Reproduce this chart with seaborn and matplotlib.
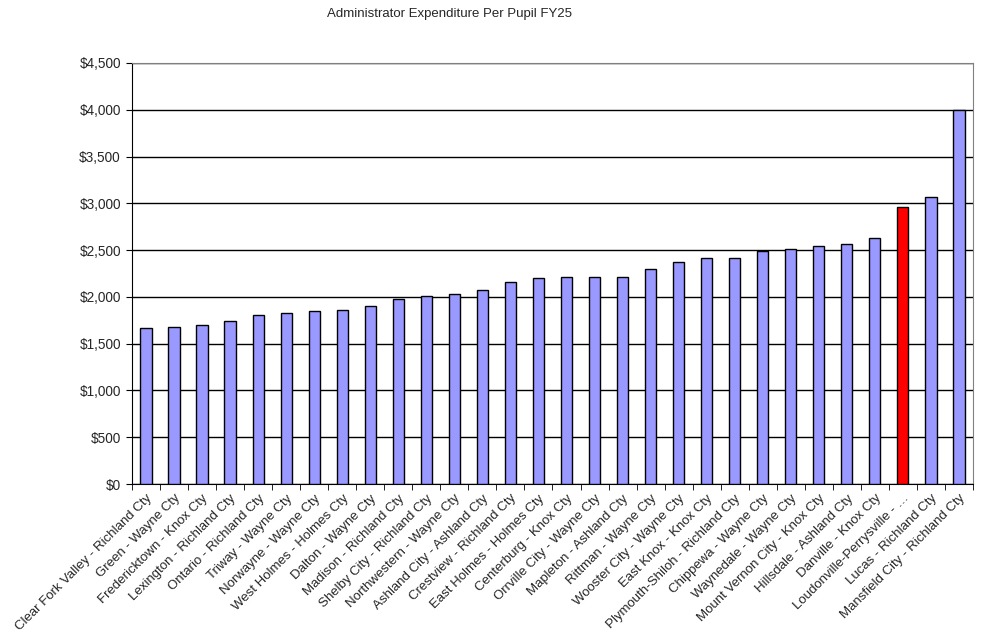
import pandas as pd
import numpy as np
import matplotlib.pyplot as plt
import seaborn as sns
from matplotlib.ticker import FuncFormatter, FixedLocator

districts = ['Clear Fork Valley - Richland Cty', 'Green - Wayne Cty', 'Fredericktown - Knox Cty',
             'Lexington - Richland Cty', 'Ontario - Richland Cty', 'Triway - Wayne Cty',
             'Norwayne - Wayne Cty', 'West Holmes - Holmes Cty', 'Dalton - Wayne Cty',
             'Madison - Richland Cty', 'Shelby City - Richland Cty', 'Northwestern - Wayne Cty',
             'Ashland City - Ashland Cty', 'Crestview - Richland Cty', 'East Holmes - Holmes Cty',
             'Centerburg - Knox Cty', 'Orrville City - Wayne Cty', 'Mapleton - Ashland Cty',
             'Rittman - Wayne Cty', 'Wooster City - Wayne Cty', 'East Knox - Knox Cty',
             'Plymouth-Shiloh - Richland Cty', 'Chippewa - Wayne Cty', 'Waynedale - Wayne Cty',
             'Mount Vernon City - Knox Cty', 'Hillsdale - Ashland Cty', 'Danville - Knox Cty',
             'Loudonville-Perrysville - …', 'Lucas - Richland Cty', 'Mansfield City - Richland Cty']
spending = [1664, 1675, 1697, 1739, 1803, 1825, 1846, 1857, 1900, 1974,
            2006, 2028, 2070, 2156, 2199, 2210, 2210, 2210, 2295, 2370,
            2412, 2412, 2487, 2509, 2541, 2562, 2626, 2958, 3065, 3998]
highlight = 'Loudonville-Perrysville - …'

df = pd.DataFrame({'district': districts, 'spending': spending})
colors = ['#FF0000' if d == highlight else '#9999FF' for d in districts]

sns.set_style('white')
plt.rcParams['font.family'] = ['Liberation Sans', 'DejaVu Sans']

fig = plt.figure(figsize=(9.82, 6.44), dpi=100)
ax = fig.add_axes([0.1344, 0.2484, 0.8564, 0.6538])

sns.barplot(data=df, x='district', y='spending', hue='district', palette=colors,
            legend=False, width=0.4, saturation=1, edgecolor='black', linewidth=1,
            ax=ax, zorder=3)

ax.set_ylim(0, 4500)
ax.set_xlim(-0.5, len(districts) - 0.5)
ax.set_yticks(np.arange(0, 4501, 500))
ax.yaxis.set_major_formatter(FuncFormatter(lambda v, p: f'${v:,.0f}'))
ax.grid(axis='y', color='black', linewidth=1, zorder=0)
ax.set_xlabel('')
ax.set_ylabel('')

for s in ['top', 'right']:
    ax.spines[s].set_color('#808080')
for s in ['left', 'bottom']:
    ax.spines[s].set_color('black')

ax.set_xticks(range(len(districts)))
ax.set_xticklabels(districts, rotation=45, ha='right', rotation_mode='anchor', fontsize=9.5)
ax.xaxis.set_minor_locator(FixedLocator(np.arange(-0.5, len(districts), 1)))
ax.tick_params(axis='x', which='major', length=0, pad=6)
ax.tick_params(axis='x', which='minor', length=4, color='black', bottom=True)
ax.tick_params(axis='y', length=4, color='black', left=True, labelsize=9.8, pad=4)

fig.text(0.458, 0.978, 'Administrator Expenditure Per Pupil FY25', ha='center', va='center', fontsize=9.5)

fig.savefig('out.png', dpi=100)
